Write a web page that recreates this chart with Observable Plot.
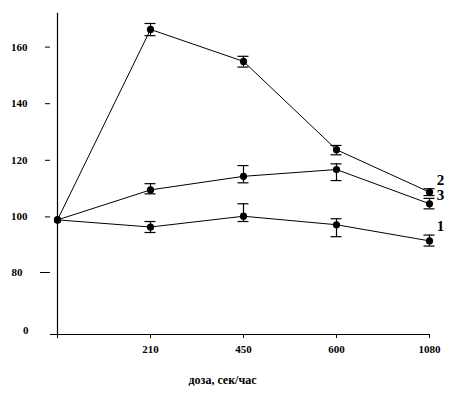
<!DOCTYPE html>
<html>
<head>
<meta charset="utf-8">
<script src="https://cdn.jsdelivr.net/npm/d3@7"></script>
<script src="https://cdn.jsdelivr.net/npm/@observablehq/plot@0.6"></script>
<style>
  html, body { margin: 0; padding: 0; background: #fff; }
  svg { display: block; }
  svg, svg text { font-family: "Liberation Serif", "Times New Roman", serif !important; font-weight: bold; }
</style>
</head>
<body>
<div id="chart"></div>
<script>
// categories (dose, sec/hour); first one (control) has no label
const doses = ["0", "210", "450", "600", "1080"];
const seriesNames = ["1", "2", "3"];
// mean values
const series1 = [100, 97.8, 101.3, 98.5, 93.5];
const series2 = [100, 167.3, 156.0, 124.8, 109.8];
const series3 = [100, 110.6, 115.4, 117.8, 105.7];
// error bar lower / upper bounds
const low1 = [100, 96.1, 99.5, 94.8, 91.9];
const high1 = [100, 99.5, 105.7, 100.4, 95.3];
const low2 = [100, 165.1, 154.0, 123.0, 108.6];
const high2 = [100, 169.4, 157.8, 126.3, 111.0];
const low3 = [100, 109.2, 113.1, 113.9, 103.9];
const high3 = [100, 112.8, 119.2, 119.8, 107.6];
// series end labels: positions in value units
const labelValues = [98.0, 114.2, 108.6];
// y tick values
const yTicksMain = [100, 120, 140, 160];
const yTicksLow = [80];
const yTickZero = [0];
const xTitle = "доза, сек/час";

const allMeans = [series1, series2, series3];
const allLow = [low1, low2, low3];
const allHigh = [high1, high2, high3];
const data = [];
seriesNames.forEach((s, i) => {
  doses.forEach((d, j) => {
    data.push({series: s, dose: d, value: allMeans[i][j], lo: allLow[i][j], hi: allHigh[i][j]});
  });
});
const errData = data.filter(d => d.dose !== "0");
const labels = seriesNames.map((s, i) => ({series: s, dose: "1080", value: labelValues[i]}));

const font = "'Liberation Serif', 'Times New Roman', serif";

const chart = Plot.plot({
  width: 474,
  height: 402,
  marginLeft: 50,
  marginRight: 44,
  marginTop: 12,
  marginBottom: 68,
  style: `font-family: ${font}; font-weight: bold; font-size: 11px; color: #000; background: #fff;`,
  x: {type: "point", domain: doses, range: [55, 430], padding: 0},
  y: {type: "linear", domain: [0, 80, 100, 173], range: [334, 284, 219.4, 12.8]},
  marks: [
    // y axis line
    Plot.ruleX([doses[0]], {y1: 0, y2: 173, stroke: "#000", strokeWidth: 1.2}),
    // x axis line
    Plot.ruleY([0], {stroke: "#000", strokeWidth: 1.2}),
    Plot.axisX({
      ticks: doses, tickSize: 4, tickPadding: 7,
      tickFormat: d => d === "0" ? "" : d,
      label: null, fontWeight: "bold", fontSize: 11, fontFamily: font
    }),
    Plot.axisY({ticks: yTicksMain, tickSize: 5, tickPadding: 18, dy: -3, label: null, fontSize: 11, fontWeight: "bold", fontFamily: font}),
    Plot.axisY({ticks: yTicksLow, tickSize: 10, tickPadding: 18, dy: -12, label: null, fontSize: 11, fontWeight: "bold", fontFamily: font}),
    Plot.axisY({ticks: yTickZero, tickSize: 0, tickPadding: 22, dy: -4, label: null, fontSize: 11, fontWeight: "bold", fontFamily: font}),
    // lines
    Plot.line(data, {x: "dose", y: "value", z: "series", stroke: "#000", strokeWidth: 1}),
    // error bars
    Plot.ruleX(errData, {x: "dose", y1: "lo", y2: "hi", stroke: "#000", strokeWidth: 1.2}),
    Plot.ruleY(errData, {x1: "dose", x2: "dose", y: "lo", insetLeft: -5.5, insetRight: -5.5, stroke: "#000", strokeWidth: 1.2}),
    Plot.ruleY(errData, {x1: "dose", x2: "dose", y: "hi", insetLeft: -5.5, insetRight: -5.5, stroke: "#000", strokeWidth: 1.2}),
    // points
    Plot.dot(data, {x: "dose", y: "value", r: 3.6, fill: "#000", stroke: "none"}),
    // series labels
    Plot.text(labels, {x: "dose", y: "value", text: "series", dx: 11, textAnchor: "middle", fontSize: 15, fontWeight: "bold", fontFamily: font, fill: "#000"}),
    // x axis title
    Plot.text([xTitle], {frameAnchor: "bottom", dy: 49, dx: -18, fontSize: 12, fontWeight: "bold", fontFamily: font, fill: "#000"})
  ]
});
document.getElementById("chart").append(chart);
</script>
</body>
</html>
